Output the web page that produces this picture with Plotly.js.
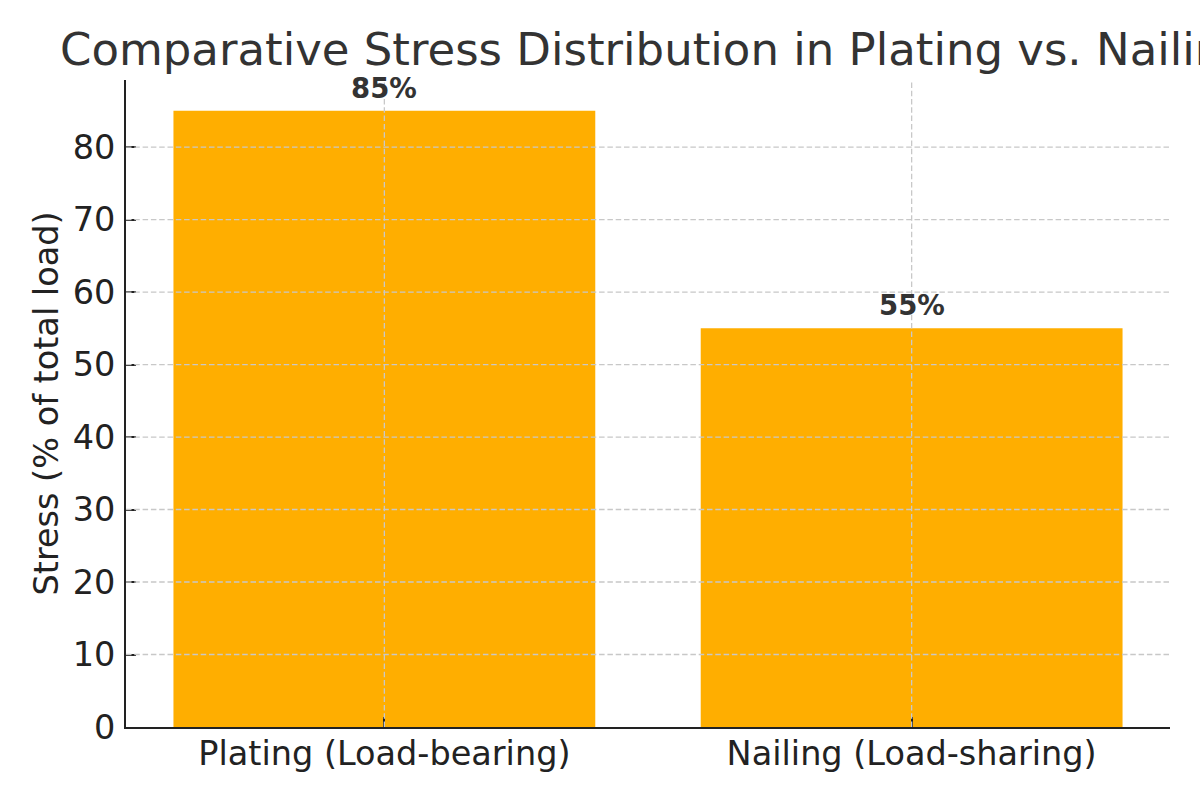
<!DOCTYPE html>
<html>
<head>
<meta charset="utf-8">
<script src="https://cdn.plot.ly/plotly-3.0.1.min.js"></script>
<style>html,body{margin:0;padding:0;background:#fff;}#chart{width:1200px;height:800px;}</style>
</head>
<body>
<div id="chart"></div>
<script>
const categories = ["Plating (Load-bearing)", "Nailing (Load-sharing)"];
const stressValues = [85, 55];
const barLabels = ["85%", "55%"];
const yTicks = [0, 10, 20, 30, 40, 50, 60, 70, 80];

const gridStyle = {color: "#c8c8c8", width: 1.3, dash: "5.5px,2.8px"};
const shapes = [];
yTicks.filter(v => v > 0).forEach(v => shapes.push({
  type: "line", layer: "above", xref: "paper", yref: "y",
  x0: 0, x1: 1, y0: v, y1: v, line: gridStyle
}));
categories.forEach((c, i) => shapes.push({
  type: "line", layer: "above", xref: "x", yref: "paper",
  x0: i, x1: i, y0: 0, y1: 1, line: gridStyle
}));

const annotations = categories.map((c, i) => ({
  x: i, y: stressValues[i], xref: "x", yref: "y",
  text: "<b>" + barLabels[i] + "</b>", showarrow: false,
  yanchor: "bottom", yshift: 5,
  font: {family: "DejaVu Sans", size: 27.5, color: "#333333"}
}));

const trace = {
  type: "bar",
  x: [0, 1],
  y: stressValues,
  width: 0.8,
  marker: {color: "#ffae00", line: {width: 0}},
  hoverinfo: "skip"
};

const layout = {
  width: 1200, height: 800,
  paper_bgcolor: "#ffffff", plot_bgcolor: "#ffffff",
  margin: {l: 126, r: 30, t: 80, b: 73},
  font: {family: "DejaVu Sans", color: "#222222"},
  showlegend: false,
  title: {
    text: "Comparative Stress Distribution in Plating vs. Nailing",
    x: 0.05, xanchor: "left", xref: "container",
    y: 1 - 49 / 800, yanchor: "middle", yref: "container",
    font: {family: "DejaVu Sans", size: 45, color: "#333333"}
  },
  xaxis: {
    range: [-0.49, 1.49],
    tickmode: "array", tickvals: [0, 1], ticktext: categories,
    tickfont: {size: 33.5, color: "#222222"},
    showgrid: false, zeroline: false,
    showline: true, linecolor: "#222222", linewidth: 2,
    ticks: "inside", ticklen: 10, tickwidth: 2, tickcolor: "#222222",
    ticklabelstandoff: -4,
    layer: "above traces", fixedrange: true
  },
  yaxis: {
    range: [0, 89.25],
    tickmode: "array", tickvals: yTicks,
    tickfont: {size: 33.5, color: "#222222"},
    showgrid: false, zeroline: false,
    showline: true, linecolor: "#222222", linewidth: 2,
    ticks: "inside", ticklen: 10, tickwidth: 2, tickcolor: "#222222",
    ticklabelstandoff: 2,
    title: {text: "Stress (% of total load)", font: {size: 33.5, color: "#222222"}, standoff: 4},
    layer: "above traces", fixedrange: true
  },
  shapes: shapes,
  annotations: annotations
};

Plotly.newPlot("chart", [trace], layout, {displayModeBar: false, staticPlot: true});
</script>
</body>
</html>
